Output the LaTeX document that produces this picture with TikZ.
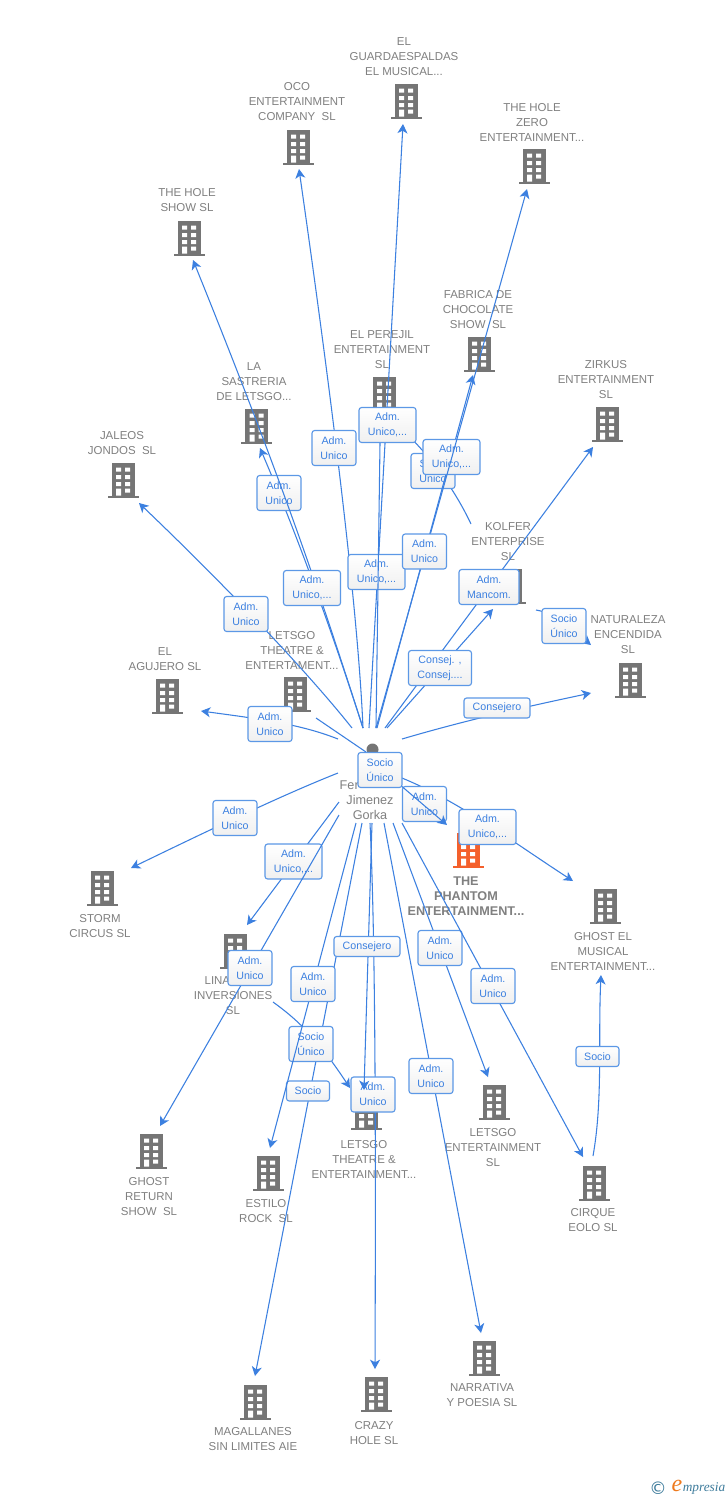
\documentclass[tikz,border=0pt]{standalone}
\usepackage{fontspec}
\setmainfont{Liberation Sans}
\newfontfamily\logoserif{Liberation Serif}
\newfontfamily\logosans{DejaVu Sans}
\usetikzlibrary{arrows.meta}
\definecolor{lnk}{HTML}{3C80E0}
\definecolor{bord}{HTML}{5C98E6}
\definecolor{txt}{HTML}{808080}
\definecolor{ico}{HTML}{757575}
\definecolor{hot}{HTML}{F4602C}
\definecolor{logot}{HTML}{3E7C9C}
\definecolor{logoo}{HTML}{EE7A1E}
\tikzset{
  x=0.75pt,y=-0.75pt,
  cline/.style={draw=lnk,line width=0.8pt},
  carrow/.style={cline,-{Stealth[length=7pt,width=7.5pt,inset=2pt]}},
  lbox/.style={draw=bord,line width=0.85pt,rounded corners=2pt,top color=white,bottom color=black!6,
    text=lnk,align=center,inner sep=0pt,font=\fontsize{8}{11.25}\selectfont},
  ntext/.style={text=txt,align=center,inner sep=0pt,yshift=-0.75pt,font=\fontsize{8.6}{11.25}\selectfont},
  ptext/.style={text=txt,align=center,inner sep=0pt,yshift=-0.75pt,font=\fontsize{9.5}{11.25}\selectfont},
  btext/.style={text=txt,align=center,inner sep=0pt,yshift=-0.75pt,font=\fontsize{9.5}{11.25}\bfseries\selectfont}
}
% building icon: colour, name, x, y
\newcommand\bldg[4][ico]{%
  \begin{scope}[shift={(#3,#4)}]
    \coordinate (#2) at (0,0);
    \fill[#1] (-11.5,-18) rectangle (11.5,14.5);
    \fill[#1] (-15.5,14.5) rectangle (15.5,17.2);
    \fill[white] (-7,-13.5) rectangle (-2,-9.5) (2,-13.5) rectangle (7,-9.5)
                 (-7,-6) rectangle (-2,-2) (2,-6) rectangle (7,-2)
                 (-7,1) rectangle (-2,5) (2,1) rectangle (7,5)
                 (-7,7.5) rectangle (-2,14.5) (2,7.5) rectangle (7,11.5);
  \end{scope}}
% straight connector: id, start, tip
\newcommand\lk[3]{\coordinate (#1s) at (#2);\coordinate (#1t) at (#3);\draw[carrow] (#1s) -- (#1t);}
% curved connector: id, start, c1, c2, tip
\newcommand\lkc[5]{\coordinate (#1s) at (#2);\coordinate (#1t) at (#5);\draw[carrow] (#1s) .. controls (#3) and (#4) .. (#1t);}
% label: id, x, y, w, h, text
\newcommand\bx[6]{\node[lbox,minimum width=#4*0.75pt,minimum height=#5*0.75pt] (#1) at (#2,#3) {#6};}
\begin{document}
\begin{tikzpicture}
\useasboundingbox[fill=white] (0,0) rectangle (728,1500);

% buildings
\bldg{guard}{406}{102}
\bldg{oco}{298}{148}
\bldg{zero}{534}{167}
\bldg{holeshow}{189}{239}
\bldg{fabrica}{479}{355}
\bldg{perejil}{384}{395}
\bldg{sastre}{256.5}{427}
\bldg{zirkus}{607}{425}
\bldg{jaleos}{123}{481}
\bldg{kolfer}{510}{587}
\bldg{agujero}{167}{697}
\bldg{ltop}{295}{695}
\bldg{natura}{630}{681}
\bldg{storm}{102}{889}
\bldg[hot]{phantom}{468}{851}
\bldg{gmusical}{605}{907}
\bldg{lina}{235}{952}
\bldg{greturn}{151}{1152}
\bldg{estilo}{268}{1174}
\bldg{lbot}{366}{1113}
\bldg{lent}{494}{1103}
\bldg{cirque}{594}{1184}
\bldg{magall}{255}{1403}
\bldg{crazy}{376}{1395}
\bldg{narra}{484}{1359}

% person
\coordinate (person) at (372,760);
\fill[ico] (372.5,749.5) circle[radius=6];
\fill[ico] (362,752) rectangle (384,772);

% texts
\node[ntext] (tguard) at (404,56) {EL\\GUARDAESPALDAS\\EL MUSICAL...};
\node[ntext] (toco) at (297,101) {OCO\\ENTERTAINMENT\\COMPANY\ \ SL};
\node[ntext] (tzero) at (532,121) {THE HOLE\\ZERO\\ENTERTAINMENT...};
\node[ntext] (thole) at (187,199.5) {THE HOLE\\SHOW SL};
\node[ntext] (tfab) at (478,309) {FABRICA DE\\CHOCOLATE\\SHOW\ \ SL};
\node[ntext] (tper) at (382,349) {EL PEREJIL\\ENTERTAINMENT\\SL};
\node[ntext] (tsas) at (254,381) {LA\\SASTRERIA\\DE LETSGO...};
\node[ntext] (tzir) at (606,379) {ZIRKUS\\ENTERTAINMENT\\SL};
\node[ntext] (tjal) at (122,442.5) {JALEOS\\JONDOS\ \ SL};
\node[ntext] (tkol) at (508,541) {KOLFER\\ENTERPRISE\\SL};
\node[ntext] (tnat) at (628,634) {NATURALEZA\\ENCENDIDA\\SL};
\node[ntext] (tagu) at (165,658.5) {EL\\AGUJERO SL};
\node[ntext] (tlto) at (292,649) {LETSGO\\THEATRE \&\\ENTERTAMENT...};
\node[btext] (tpha) at (466,895) {THE\\PHANTOM\\ENTERTAINMENT...};
\node[ntext] (tgmu) at (603,950) {GHOST EL\\MUSICAL\\ENTERTAINMENT...};
\node[ntext] (tsto) at (100,925.5) {STORM\\CIRCUS SL};
\node[ntext] (tlin) at (233,995) {LINA\phantom{RESA}\\INVERSIONES\\SL};
\node[ntext] (tgre) at (149,1196) {GHOST\\RETURN\\SHOW\ \ SL};
\node[ntext] (test) at (266,1210.5) {ESTILO\\ROCK\ \ SL};
\node[ntext] (tlbo) at (364,1158) {LETSGO\\THEATRE \&\\ENTERTAINMENT...};
\node[ntext] (tlen) at (493,1147) {LETSGO\\ENTERTAINMENT\\SL};
\node[ntext] (tcir) at (593,1219.5) {CIRQUE\\EOLO SL};
\node[ntext] (tmag) at (253,1438.5) {MAGALLANES\\SIN LIMITES AIE};
\node[ntext] (tcra) at (374,1432.5) {CRAZY\\HOLE SL};
\node[ntext] (tnar) at (482,1394.5) {NARRATIVA\\Y POESIA SL};
\node[ptext] (tper2) at (370,799) {Fer\phantom{nandez}\\Jimenez\\Gorka};

% connectors, upper half
\lkc{a}{352,728}{310,675}{230,590}{139,503}
\bx{la}{246}{614}{44}{35}{Adm.\\Unico}
\lkc{b}{363,728}{330,625}{295,530}{260,448}
\bx{lb}{279}{493}{44}{35}{Adm.\\Unico}
\lkc{c}{363,728}{325,610}{290,500}{193,260}
\bx{lc}{312}{588}{57}{35}{Adm.\\Unico,...}
\lkc{d}{363,728}{358,610}{332,400}{299,169}
\bx{ld}{334}{448}{44}{35}{Adm.\\Unico}
\lk{e}{369,728}{403,124}
\bx{le}{376.5}{572}{57}{35}{Adm.\\Unico,...}
\lkc{k}{471,524}{455,490}{430,455}{397,425}
\bx{lk}{433}{471}{44}{35}{Socio\\Unico}
\lk{f}{376,728}{380.5,408}
\bx{lf}{387.5}{425}{57}{35}{Adm.\\Unico,...}
\lk{g}{377,728}{473,375}
\bx{lg}{451.5}{457}{57}{35}{Adm.\\Unico,...}
\lk{h}{376,728}{527,189}
\bx{lh}{424.5}{551.5}{44}{35}{Adm.\\Unico}
\lk{i}{385,728}{593,447}
\bx{li}{489}{587}{60}{35}{Adm.\\Mancom.}
\lk{j}{387,728}{493,609}
\bx{lj}{440}{668}{63}{35}{Consej. ,\\Consej....}
\lkc{l}{402,739}{470,719}{530,706}{591,693}
\bx{ll}{497}{708}{66}{20}{Consejero}
\lkc{m}{536,610}{560,614}{575,632}{591,645}
\bx{lm}{564}{626}{44}{35}{Socio\\Único}
\lkc{n}{338,739}{300,724}{260,719}{201,711}
\bx{ln}{270}{724}{44}{35}{Adm.\\Unico}
\coordinate (os) at (366,752);\coordinate (ot) at (316,718);
\draw[cline] (os) -- (ot);

% connectors, lower half
\lkc{p}{338,773}{290,792}{230,820}{131,868}
\bx{lp}{235}{818}{44}{35}{Adm.\\Unico}
\lk{q}{339,802}{247,925}
\bx{lq}{293.5}{861.5}{57}{35}{Adm.\\Unico,...}
\lk{r}{339,815}{160,1126}
\bx{lr}{250}{968}{44}{35}{Adm.\\Unico}
\lk{u}{362,823}{255,1376}
\bx{lu}{308}{1091}{43}{20}{Socio}
\lkc{v}{273,1002}{295,1018}{315,1035}{350,1088}
\bx{lv}{311}{1044}{44}{35}{Socio\\Único}
\lk{s}{356,823}{270,1148}
\bx{ls}{313}{984}{44}{35}{Adm.\\Unico}
\lkc{x}{370,823}{375,930}{376,1100}{375,1369}
\bx{lx}{373}{1094.5}{44}{35}{Adm.\\Unico}
\lk{w}{372,823}{364,1090}
\bx{lw}{367}{946.5}{66}{20}{Consejero}
\lk{y}{384,823}{481,1333}
\bx{ly}{431}{1076}{44}{35}{Adm.\\Unico}
\lk{z}{393,823}{488,1077}
\bx{lz}{440}{948}{44}{35}{Adm.\\Unico}
\lk{aa}{402,823}{583,1157}
\bx{laa}{493}{986}{44}{35}{Adm.\\Unico}
\lkc{ab}{593,1156}{603,1100}{598,1040}{601,975}
\bx{lab}{597.5}{1056.5}{43}{20}{Socio}
\lkc{ac}{402,778}{460,802}{510,840}{573,881}
\bx{lac}{487.5}{827}{57}{35}{Adm.\\Unico,...}
\bx{lad}{424.5}{804}{44}{35}{Adm.\\Unico}
\lk{ad}{385,772}{447,825}
\bx{lae}{380}{770}{44}{35}{Socio\\Único}

% logo
\node[inner sep=0pt,text=logot,font=\fontsize{13}{14}\logosans\selectfont] (lc1) at (658,1488) {©};
\node[inner sep=0pt,text=logoo,font=\fontsize{18}{18}\logoserif\itshape\selectfont] (lc2) at (677,1486) {e};
\node[inner sep=0pt,text=logot,font=\fontsize{10}{14}\logoserif\itshape\selectfont] (lc3) at (704,1488.5) {mpresia};
\end{tikzpicture}
\end{document}
